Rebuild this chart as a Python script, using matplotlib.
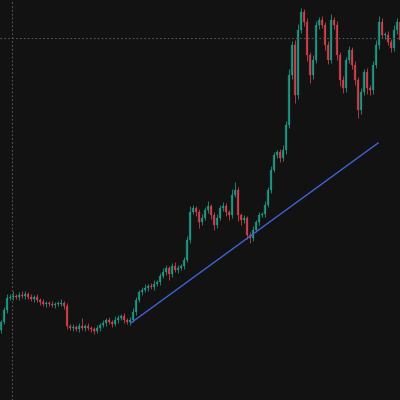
import matplotlib
matplotlib.use("Agg")
import matplotlib.pyplot as plt
from matplotlib.patches import Rectangle

# candle data (price units), one candle per step
first_open = 70
closes = [
    78, 90, 102, 103, 104, 103, 105, 104, 106, 103,
    101, 103, 100, 98, 96, 97, 96, 95, 96, 96,
    97, 94, 74, 72, 73, 71, 74, 72, 74, 72,
    71, 69, 72, 75, 77, 80, 78, 76, 80, 82,
    84, 80, 78, 80, 88, 100, 108, 110, 112, 114,
    113, 116, 118, 124, 128, 132, 126, 134, 130, 132,
    134, 140, 160, 188, 192, 188, 178, 182, 190, 194,
    185, 175, 182, 192, 194, 188, 185, 205, 210, 185,
    180, 182, 165, 162, 170, 178, 185, 186, 195, 210,
    230, 245, 248, 242, 250, 275, 325, 355, 305, 370,
    388, 378, 345, 325, 340, 375, 380, 375, 355, 340,
    380, 375, 345, 320, 312, 340, 350, 335, 320, 290,
    308, 328, 312, 310, 335, 355, 378, 365, 365, 358,
    352, 370, 378, 360,
]
wick_up = [
    2, 3, 4, 3, 5, 2, 3, 4, 3, 2,
    3, 2, 3, 2, 3, 2, 2, 3, 2, 3,
    4, 2, 3, 2, 3, 2, 3, 8, 2, 3,
    2, 2, 3, 2, 3, 2, 3, 2, 4, 3,
    2, 3, 2, 3, 4, 3, 2, 3, 4, 2,
    3, 4, 2, 3, 4, 3, 2, 3, 4, 3,
    2, 3, 4, 6, 3, 2, 3, 4, 3, 5,
    2, 3, 4, 3, 4, 3, 2, 6, 8, 3,
    2, 3, 2, 3, 4, 2, 3, 2, 4, 3,
    4, 3, 2, 3, 5, 4, 6, 4, 5, 6,
    4, 3, 4, 3, 5, 4, 3, 4, 3, 4,
    6, 3, 4, 3, 4, 3, 4, 3, 4, 3,
    4, 3, 4, 3, 4, 5, 6, 4, 3, 4,
    3, 5, 4, 3,
]
wick_dn = [
    3, 2, 3, 2, 3, 2, 3, 2, 3, 2,
    2, 3, 2, 3, 2, 3, 2, 2, 3, 2,
    2, 3, 3, 2, 3, 2, 3, 2, 3, 2,
    3, 3, 2, 3, 2, 3, 2, 3, 2, 3,
    2, 3, 2, 3, 2, 3, 2, 3, 2, 3,
    2, 3, 2, 3, 2, 3, 6, 3, 2, 3,
    2, 3, 2, 3, 2, 4, 6, 3, 2, 3,
    4, 5, 3, 2, 3, 4, 5, 3, 2, 6,
    5, 3, 4, 5, 3, 2, 3, 2, 3, 2,
    3, 2, 3, 4, 3, 4, 3, 4, 8, 4,
    3, 4, 6, 8, 4, 3, 4, 3, 5, 4,
    3, 4, 5, 6, 5, 4, 3, 4, 5, 8,
    4, 3, 6, 5, 4, 3, 4, 3, 4, 3,
    4, 3, 4, 3,
]

trend_x = [43.3, 125.7]
trend_y = [77, 257]
cross_x = 3.6
cross_y = 362

bg = "#121212"
up_color = "#1f9e88"
down_color = "#d9434f"

fig = plt.figure(figsize=(4, 4), dpi=100, facecolor=bg)
ax = fig.add_axes([0, 0, 1, 1])
ax.set_facecolor(bg)

opens = [first_open] + closes[:-1]
for i, (o, c) in enumerate(zip(opens, closes)):
    col = up_color if c >= o else down_color
    top = max(o, c)
    bot = min(o, c)
    ax.vlines(i, bot - wick_dn[i], top + wick_up[i], color=col, lw=0.7, alpha=0.8)
    ax.add_patch(Rectangle((i - 0.25, bot), 0.5, max(top - bot, 0.8),
                           facecolor=col, edgecolor=col, lw=0.2, alpha=0.8))

ax.plot(trend_x, trend_y, color="#3f62d6", lw=1.0)

ax.axvline(cross_x, color="#555555", lw=0.8, ls=(0, (1.5, 2)))
ax.axhline(cross_y, color="#555555", lw=0.8, ls=(0, (1.5, 2)))

ax.set_xlim(-0.3, 133.0)
ax.set_ylim(0, 400)
ax.axis("off")

fig.savefig("out.png", dpi=100, facecolor=bg)
